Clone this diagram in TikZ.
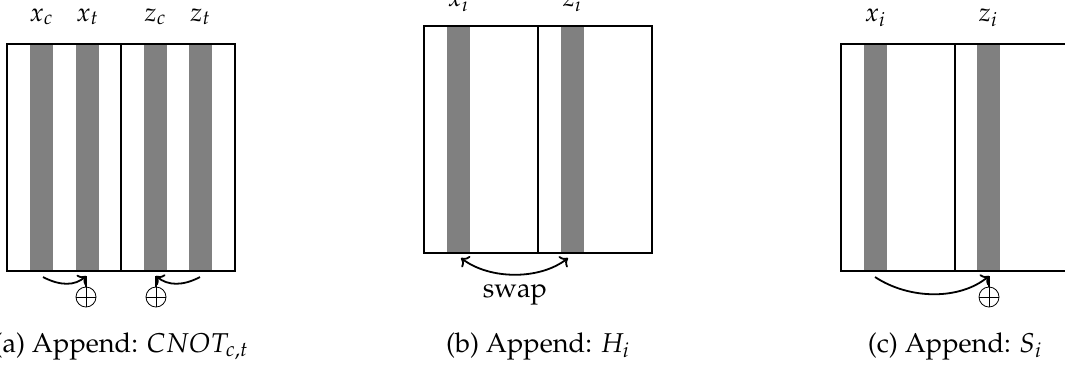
\documentclass[tikz,border=0pt]{standalone}
\usepackage[T1]{fontenc}
\usepackage{mathpazo}
\usetikzlibrary{arrows.meta}
\begin{document}
\begin{tikzpicture}[x=0.5pt,y=-0.5pt,
  bar/.style={fill=gray},
  frame/.style={draw, line width=1pt},
  lbl/.style={anchor=base, font=\fontsize{13}{15}\selectfont, inner sep=0},
  captext/.style={anchor=base, font=\fontsize{13.6}{16}\selectfont, inner sep=0},
  arr/.style={line width=0.9pt, -{To[length=3.5pt,width=7pt]}},
  dbl/.style={line width=0.9pt, {To[length=3.5pt,width=7pt]}-{To[length=3.5pt,width=7pt]}},
  xorg/.style={circle, draw, line width=0.4pt, minimum size=10pt, inner sep=0pt,
    path picture={\draw[line width=0.4pt] (path picture bounding box.north) -- (path picture bounding box.south)
      (path picture bounding box.west) -- (path picture bounding box.east);}}
]
\useasboundingbox (0,0) rectangle (1065,372);

% ---------- panel a ----------
\fill[bar] (30,44) rectangle (53,271);
\fill[bar] (76,44) rectangle (99,271);
\fill[bar] (144,44) rectangle (167,271);
\fill[bar] (189,44) rectangle (212,271);
\draw[frame] (7,44) rectangle (235,271);
\draw[frame] (121,44) -- (121,271);
\node[lbl] (axc) at (41.5,21) {$x_c$};
\node[lbl] (axt) at (87.5,21) {$x_t$};
\node[lbl] (azc) at (155.5,21) {$z_c$};
\node[lbl] (azt) at (200.5,21) {$z_t$};
\coordinate (a1s) at (43,277);
\coordinate (a1t) at (86,276);
\coordinate (a2s) at (200,277);
\coordinate (a2t) at (156,276);
\node[xorg] (ao1) at (86,297) {};
\node[xorg] (ao2) at (156,297) {};
\draw[arr] (a1s) .. controls (60,286) and (75,286) .. (a1t);
\draw[line width=0.9pt] (a1t) -- (ao1.north);
\draw[arr] (a2s) .. controls (183,286) and (168,286) .. (a2t);
\draw[line width=0.9pt] (a2t) -- (ao2.north);
\node[captext] (capa) at (121,352) {(a) Append: $CNOT_{c,t}$};

% ---------- panel b ----------
\fill[bar] (447,26) rectangle (470,253);
\fill[bar] (561,26) rectangle (584,253);
\draw[frame] (424,26) rectangle (652,253);
\draw[frame] (538,26) -- (538,253);
\node[lbl] (bxi) at (458.5,6) {$x_i$};
\node[lbl] (bzi) at (572.5,6) {$z_i$};
\coordinate (bs) at (461,258);
\coordinate (bt) at (568,258);
\draw[dbl] (bs) .. controls (490,280) and (540,280) .. (bt);
\node[captext] (swap) at (515,297) {swap};
\node[captext] (capb) at (538,352) {(b) Append: $H_i$};

% ---------- panel c ----------
\fill[bar] (864,44) rectangle (887,271);
\fill[bar] (977,44) rectangle (1000,271);
\draw[frame] (841,44) rectangle (1069,271);
\draw[frame] (955,44) -- (955,271);
\node[lbl] (cxi) at (875.5,21) {$x_i$};
\node[lbl] (czi) at (988.5,21) {$z_i$};
\coordinate (cs) at (875,277);
\coordinate (ct) at (989,276);
\node[xorg] (co) at (989,297) {};
\draw[arr] (cs) .. controls (910,300) and (960,300) .. (ct);
\draw[line width=0.9pt] (ct) -- (co.north);
\node[captext] (capc) at (955,352) {(c) Append: $S_i$};
\end{tikzpicture}
\end{document}
